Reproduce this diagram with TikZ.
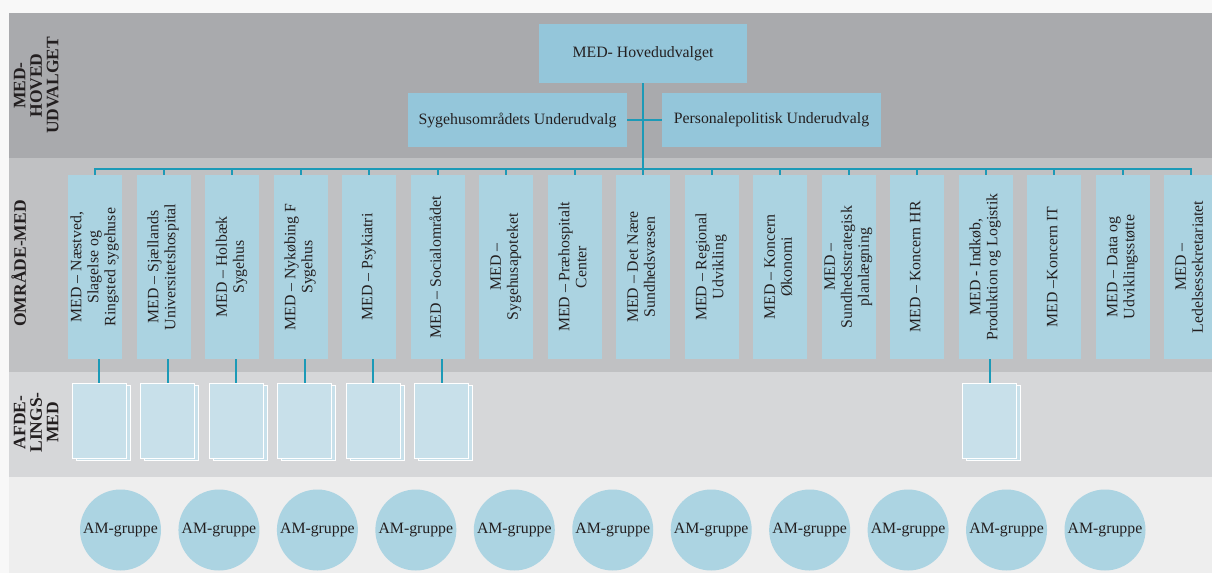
\documentclass[tikz,border=0pt]{standalone}
\usepackage{fontspec}
\setmainfont{Liberation Serif}
\usepackage{graphicx}
\definecolor{bgc}{HTML}{F8F8F8}
\definecolor{bandA}{HTML}{A9AAAD}
\definecolor{bandB}{HTML}{C0C1C3}
\definecolor{bandC}{HTML}{D6D7D9}
\definecolor{bandD}{HTML}{EEEEEE}
\definecolor{hdrfill}{HTML}{94C6DA}
\definecolor{colfill}{HTML}{ABD3E1}
\definecolor{pagefill}{HTML}{C8E0EA}
\definecolor{circfill}{HTML}{ACD4E2}
\definecolor{linec}{HTML}{1D9AB7}
\definecolor{txt}{HTML}{231F20}
\newcommand\vtext[1]{\rotatebox{90}{\begin{tabular}{@{}c@{}}#1\end{tabular}}}
\tikzset{
  hdrbox/.style={fill=hdrfill, inner sep=0, text=txt, font=\fontsize{15.8}{17}\selectfont},
  colbox/.style={fill=colfill, minimum width=54, minimum height=184, inner sep=0, text=txt, font=\fontsize{15.8}{17}\selectfont},
  pagebox/.style={fill=pagefill, draw=white, line width=0.8pt, minimum width=54, minimum height=75, inner sep=0},
  amcirc/.style={circle, fill=circfill, minimum size=81, inner sep=0, text=txt, font=\fontsize{15.8}{17}\selectfont},
  conn/.style={draw=linec, line width=2pt},
  sidelbl/.style={inner sep=0, text=txt, font=\bfseries\fontsize{17.5}{16.5}\selectfont}
}
\begin{document}
\begin{tikzpicture}[x=1pt,y=-1pt]
\useasboundingbox (0,0) rectangle (1212,573);
\clip (0,0) rectangle (1212,573);
% background and bands
\fill[bgc] (0,0) rectangle (1212,573);
\fill[bandA] (9,13) rectangle (1212,158);
\fill[bandB] (9,158) rectangle (1212,372);
\fill[bandC] (9,372) rectangle (1212,477);
\fill[bandD] (9,477) rectangle (1212,573);
% side labels
\node[sidelbl] (l1) at (38.5,85.5) {\vtext{MED-\\HOVED\\UDVALGET}};
\node[sidelbl] (l2) at (21,263.5) {\vtext{OMRÅDE-MED}};
\node[sidelbl] (l3) at (38.5,422.5) {\vtext{AFDE-\\LINGS-\\MED}};
% header boxes
\node[hdrbox, minimum width=208, minimum height=59] (hoved) at (643,53.5) {MED- Hovedudvalget};
\node[hdrbox, minimum width=219, minimum height=54] (syg) at (517.5,120) {Sygehusområdets Underudvalg};
\node[hdrbox, minimum width=219, minimum height=54] (pers) at (771.5,120) {Personalepolitisk Underudvalg};
\coordinate (bus) at (643,169);
\draw[conn] (syg.east) -- (pers.west);
\draw[conn] (hoved.south) -- (bus);
% column boxes
\node[colbox] (c1) at (95,267) {\vtext{MED – Næstved,\\Slagelse og\\Ringsted sygehuse}};
\node[colbox] (c2) at (163.5,267) {\vtext{MED – Sjællands\\Universitetshospital}};
\node[colbox] (c3) at (232,267) {\vtext{MED – Holbæk\\Sygehus}};
\node[colbox] (c4) at (300.5,267) {\vtext{MED – Nykøbing F\\Sygehus}};
\node[colbox] (c5) at (369,267) {\vtext{MED – Psykiatri}};
\node[colbox] (c6) at (437.5,267) {\vtext{MED – Socialområdet}};
\node[colbox] (c7) at (506,267) {\vtext{MED –\\Sygehusapoteket}};
\node[colbox] (c8) at (574.5,267) {\vtext{MED – Præhospitalt\\Center}};
\node[colbox] (c9) at (643,267) {\vtext{MED – Det Nære\\Sundhedsvæsen}};
\node[colbox] (c10) at (711.5,267) {\vtext{MED – Regional\\Udvikling}};
\node[colbox] (c11) at (780,267) {\vtext{MED – Koncern\\Økonomi}};
\node[colbox] (c12) at (848.5,267) {\vtext{MED –\\Sundhedsstrategisk\\planlægning}};
\node[colbox] (c13) at (917,267) {\vtext{MED – Koncern HR}};
\node[colbox] (c14) at (985.5,267) {\vtext{MED - Indkøb,\\Produktion og Logistik}};
\node[colbox] (c15) at (1054,267) {\vtext{MED –Koncern IT}};
\node[colbox] (c16) at (1122.5,267) {\vtext{MED – Data og\\Udviklingsstøtte}};
\node[colbox] (c17) at (1191,267) {\vtext{MED –\\Ledelsessekretariatet}};
% bus
\draw[conn] (c1.north) |- (bus) -| (c17.north);
\foreach \k in {2,...,16} \draw[conn] (c\k.north) -- (c\k.north |- bus);
% pages
\foreach \k in {1,...,6,14} {
  \node[pagebox] (pb\k) at ({103+68.5*(\k-1)},423) {};
  \node[pagebox] (p\k) at ({99+68.5*(\k-1)},420.5) {};
  \draw[conn] (p\k.north) -- (p\k.north |- c\k.south);
}
% AM circles
\foreach \k in {1,...,11} \node[amcirc] (a\k) at ({120.5+98.45*(\k-1)},530) {AM-gruppe};
\end{tikzpicture}
\end{document}
